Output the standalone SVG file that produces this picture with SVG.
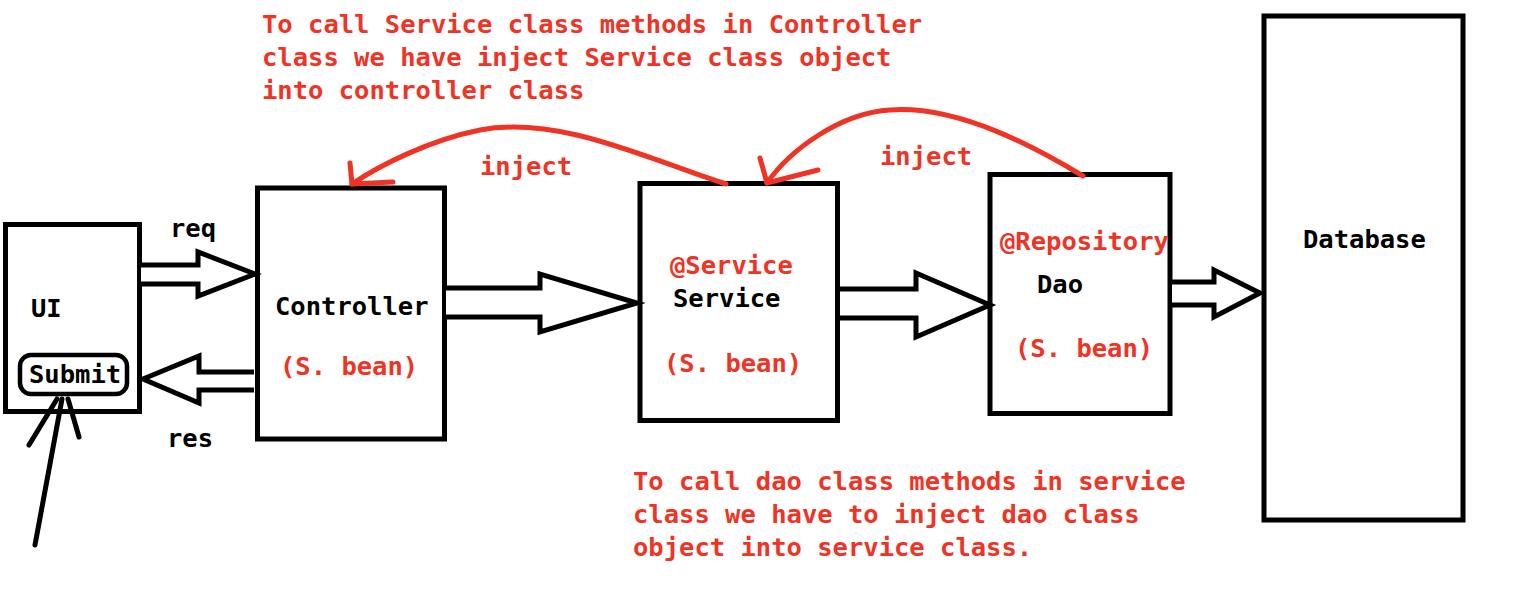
<svg xmlns="http://www.w3.org/2000/svg" width="1535" height="611" viewBox="0 0 1535 611">
<style>
.box{fill:#fff;stroke:#000;stroke-width:5}
.arr{fill:#fff;stroke:#000;stroke-width:5;stroke-linejoin:miter}
.red{fill:none;stroke:#ef3325;stroke-width:5;stroke-linecap:round;stroke-linejoin:round}
.ln{fill:none;stroke:#000;stroke-width:5;stroke-linecap:round}
text{font-family:"DejaVu Sans Mono","Liberation Mono",monospace;font-weight:bold;font-size:25.5px}
.k{fill:#000}
.r{fill:#ef3325}
</style>
<rect width="1535" height="611" fill="#fff"/>
<g id="notes">
<text class="r" x="262" y="33">To call Service class methods in Controller</text>
<text class="r" x="262" y="66">class we have inject Service class object</text>
<text class="r" x="262" y="99">into controller class</text>
<text class="r" x="633" y="490">To call dao class methods in service</text>
<text class="r" x="633" y="523">class we have to inject dao class</text>
<text class="r" x="633" y="556">object into service class.</text>
</g>
<g id="ui">
<rect class="box" x="5.5" y="224.5" width="134" height="187"/>
<text class="k" x="31" y="317">UI</text>
<rect x="20" y="355" width="107" height="39" rx="11" fill="#fff" stroke="#000" stroke-width="4.5"/>
<text class="k" x="29" y="383">Submit</text>
</g>
<g id="controller">
<rect class="box" x="257.5" y="188" width="187" height="251"/>
<text class="k" x="275" y="315">Controller</text>
<text class="r" x="280" y="375">(S. bean)</text>
</g>
<g id="service">
<rect class="box" x="640" y="183.5" width="197.5" height="237"/>
<text class="r" x="670" y="274">@Service</text>
<text class="k" x="673" y="307">Service</text>
<text class="r" x="664" y="372">(S. bean)</text>
</g>
<g id="dao">
<rect class="box" x="990" y="174.5" width="180" height="239"/>
<text class="r" x="1000" y="250">@Repository</text>
<text class="k" x="1037" y="293">Dao</text>
<text class="r" x="1015" y="357">(S. bean)</text>
</g>
<g id="database">
<rect class="box" x="1264" y="16" width="199" height="504"/>
<text class="k" x="1303" y="248">Database</text>
</g>
<g id="connectors">
<path class="arr" d="M141,265 L198,265 L198,252 L255,274 L198,296 L198,284 L141,284"/>
<path class="arr" d="M254,372 L199,372 L199,356 L143,379 L199,403 L199,390 L254,390"/>
<path class="arr" d="M446,288 L540,288 L540,274 L637,303 L540,332 L540,317 L446,317"/>
<path class="arr" d="M840,289 L916,289 L916,273 L990,305 L916,337 L916,318 L840,318"/>
<path class="arr" d="M1172,282 L1214,282 L1214,270 L1260,293 L1214,317 L1214,305 L1172,305"/>
<text class="k" x="170" y="237">req</text>
<text class="k" x="167" y="447">res</text>
<path class="ln" d="M35,545 L62,399"/>
<path class="ln" d="M29,445 L57,399"/>
<path class="ln" d="M79,437 L68,399"/>
<path class="red" d="M726,184 C650,160 560,115 480,130 C430,140 380,165 352,184"/>
<path class="red" d="M350,163 L352,184 L393,182"/>
<text class="r" x="480" y="175">inject</text>
<path class="red" d="M1083,176 C1040,150 960,105 890,110 C840,113 790,150 767,183"/>
<path class="red" d="M760,158 L767,183 L818,170"/>
<text class="r" x="880" y="165">inject</text>
</g>
</svg>
